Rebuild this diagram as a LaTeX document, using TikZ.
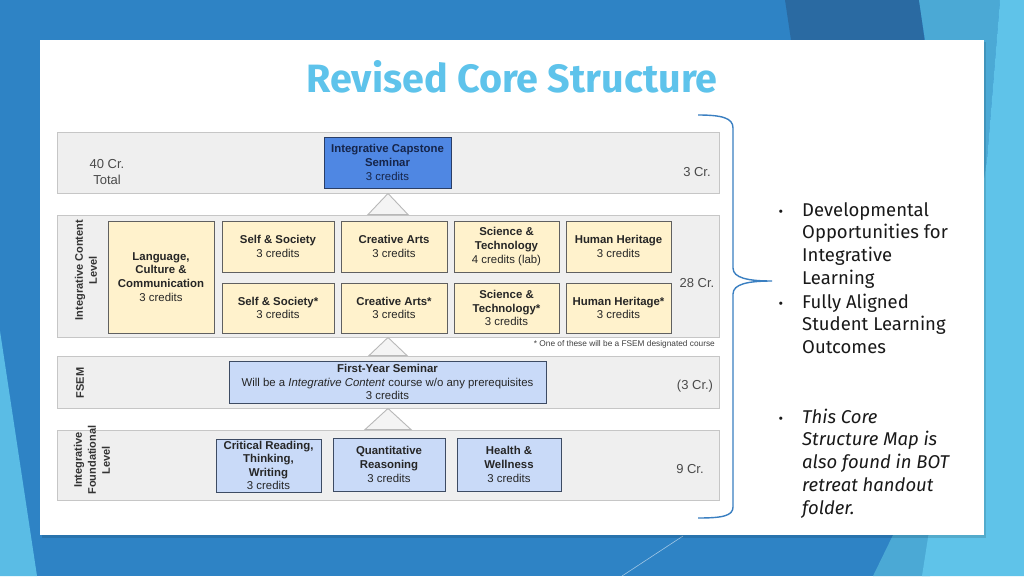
\documentclass[tikz,border=0pt]{standalone}
\usepackage{fontspec}
\setmainfont{Liberation Sans}
\newfontfamily\firaf{Fira Sans}
\usetikzlibrary{calc}
\definecolor{bgblue}{HTML}{2E83C5}
\definecolor{darkpoly}{HTML}{2A6AA2}
\definecolor{medpoly}{HTML}{4BA9D5}
\definecolor{lightpoly}{HTML}{5FC3E9}
\definecolor{wedge}{HTML}{5ABCE5}
\definecolor{titlecol}{HTML}{5EC3EB}
\definecolor{bandfill}{HTML}{EFEFEF}
\definecolor{bandline}{HTML}{C6C6C6}
\definecolor{yellowfill}{HTML}{FFF2CC}
\definecolor{boxline}{HTML}{606060}
\definecolor{capfill}{HTML}{4F87E3}
\definecolor{capline}{HTML}{2A3E66}
\definecolor{captext}{HTML}{16254A}
\definecolor{lbfill}{HTML}{C9DAF8}
\definecolor{lbline}{HTML}{3D4B63}
\definecolor{bracecol}{HTML}{3A7FC1}
\definecolor{crtext}{HTML}{4A4A4A}
\definecolor{tritri}{HTML}{B8B8B8}
\tikzset{
  band/.style={draw=bandline, fill=bandfill, line width=0.9pt, minimum width=662, minimum height=#1, inner sep=0},
  dtext/.style={font=\fontsize{11.4}{13.8}\selectfont, align=center, inner sep=0},
  ybox/.style={dtext, draw=boxline, fill=yellowfill, line width=0.9pt, text=black!85},
  lbbox/.style={dtext, draw=lbline, fill=lbfill, line width=0.9pt, text=black!85},
  capbox/.style={dtext, draw=capline, fill=capfill, line width=0.9pt, text=captext},
  crlabel/.style={font=\fontsize{13}{15.5}\selectfont, text=crtext, align=center, inner sep=0},
  vlabel/.style={font=\bfseries\fontsize{11}{14}\selectfont, text=black!80, align=center, inner sep=0, rotate=90},
  chevron/.style={draw=tritri, fill=bandfill!70!white, line width=0.9pt},
  bullettext/.style={font=\firaf\fontsize{18.5}{22.8}\selectfont, inner sep=0, anchor=base west, text=black!90},
  bulletdot/.style={font=\firaf\fontsize{14}{22.8}\selectfont, inner sep=0, anchor=base, text=black!90},
}
\newcommand{\linesblock}[1]{\begin{tabular}[t]{@{}l@{}}#1\end{tabular}}
\begin{document}
\begin{tikzpicture}[x=1pt, y=-1pt]
\useasboundingbox (0,0) rectangle (1024,576);
% background
\fill[bgblue] (0,0) rectangle (1024,576);
\fill[darkpoly] (785,0) -- (919,0) -- (960,300) -- (830,300) -- cycle;
\fill[medpoly] (919,0) -- (1000,0) -- (987,160) -- (930,576) -- (873,576) -- (893,535) -- (925,40) -- cycle;
\fill[lightpoly] (1000,0) -- (1024,0) -- (1024,576) -- (922,576) -- (987,160) -- cycle;
\fill[wedge] (0,331) -- (37,576) -- (0,576) -- cycle;
\draw[white, opacity=0.55, line width=0.6pt] (683,536) -- (622,576);
% panel
\fill[black, opacity=0.12] (41.5,41.5) rectangle (986,537.5);
\fill[white] (40,40) rectangle (984,535);
% title
\node[font=\firaf\bfseries\fontsize{39.5}{42}\selectfont, text=titlecol, anchor=base, inner sep=0] (title) at (512,92) {Revised Core Structure};
% bands
\node[band=61] (band1) at (388,162.5) {};
\node[band=122] (band2) at (388,276) {};
\node[band=52] (band3) at (388,382) {};
\node[band=70] (band4) at (388,465) {};
% capstone
\node[capbox, minimum width=127, minimum height=51] (cap) at (387.5,162.5) {\textbf{Integrative Capstone}\\\textbf{Seminar}\\3 credits};
\node[crlabel] (total) at (107,172) {40 Cr.\\Total};
\node[crlabel] (cr1) at (697,172) {3 Cr.};
% content level
\node[vlabel] (vl2) at (86,270) {Integrative Content\\Level};
\node[ybox, minimum width=106, minimum height=112] (lang) at (161,277) {\textbf{Language,}\\\textbf{Culture \&}\\\textbf{Communication}\\3 credits};
\node[ybox, minimum width=112, minimum height=51] (ss1) at (278,246.5) {\textbf{Self \& Society}\\3 credits};
\node[ybox, minimum width=112, minimum height=50] (ss2) at (278,308) {\textbf{Self \& Society*}\\3 credits};
\node[ybox, minimum width=106, minimum height=51] (ca1) at (394,246.5) {\textbf{Creative Arts}\\3 credits};
\node[ybox, minimum width=106, minimum height=50] (ca2) at (394,308) {\textbf{Creative Arts*}\\3 credits};
\node[ybox, minimum width=105, minimum height=51] (st1) at (506.5,246.5) {\textbf{Science \&}\\\textbf{Technology}\\4 credits (lab)};
\node[ybox, minimum width=105, minimum height=50] (st2) at (506.5,308) {\textbf{Science \&}\\\textbf{Technology*}\\3 credits};
\node[ybox, minimum width=105, minimum height=51] (hh1) at (618.5,246.5) {\textbf{Human Heritage}\\3 credits};
\node[ybox, minimum width=105, minimum height=50] (hh2) at (618.5,308) {\textbf{Human Heritage*}\\3 credits};
\node[crlabel] (cr2) at (697,283) {28 Cr.};
\node[font=\fontsize{8.3}{9.5}\selectfont, text=black!75, anchor=east, inner sep=0] (note) at (715,344) {* One of these will be a FSEM designated course};
% FSEM
\node[vlabel] (vl3) at (80,383) {FSEM};
\node[lbbox, minimum width=317, minimum height=42, font=\fontsize{11.4}{13.6}\selectfont] (fsem) at (387.5,382) {\textbf{First-Year Seminar}\\Will be a \textit{Integrative Content} course w/o any prerequisites\\3 credits};
\node[crlabel] (cr3) at (695,386) {(3 Cr.)};
% foundational
\node[vlabel] (vl4) at (92,460) {Integrative\\Foundational\\Level};
\node[lbbox, minimum width=105, minimum height=53, font=\fontsize{11.4}{13.4}\selectfont] (crt) at (268.5,465.5) {\textbf{Critical Reading,}\\\textbf{Thinking,}\\\textbf{Writing}\\3 credits};
\node[lbbox, minimum width=112, minimum height=53] (qr) at (389,464.5) {\textbf{Quantitative}\\\textbf{Reasoning}\\3 credits};
\node[lbbox, minimum width=104, minimum height=53] (hw) at (509,464.5) {\textbf{Health \&}\\\textbf{Wellness}\\3 credits};
\node[crlabel] (cr4) at (690,469) {9 Cr.};
% chevrons
\draw[chevron] ($(band2.north)+(-20,0)$) -- (band1.south) -- ($(band2.north)+(20,0)$) -- cycle;
\draw[chevron] ($(band3.north)+(-19,0)$) -- (band2.south) -- ($(band3.north)+(19,0)$) -- cycle;
\draw[chevron] ($(band4.north)+(-23,0)$) -- (band3.south) -- ($(band4.north)+(23,0)$) -- cycle;
% brace
\coordinate (btop) at (698,115);
\coordinate (btip) at (772,281);
\coordinate (bbot) at (698,518);
\draw[bracecol, line width=1.4pt] (btop) .. controls (722,115) and (733,118) .. (733,128) -- (733,268) .. controls (733,278) and (748,281) .. (btip) .. controls (748,281) and (733,284) .. (733,294) -- (733,507) .. controls (733,516) and (722,518) .. (bbot);
% bullets
\node[bulletdot] (d1) at (781,216) {•};
\node[bulletdot] (d2) at (781,308) {•};
\node[bulletdot] (d3) at (781,423) {•};
\node[bullettext] (b1) at (802,216) {\linesblock{Developmental\\Opportunities for\\Integrative\\Learning}};
\node[bullettext] (b2) at (802,308) {\linesblock{Fully Aligned\\Student Learning\\Outcomes}};
\node[bullettext, font=\firaf\itshape\fontsize{18.5}{22.8}\selectfont] (b3) at (802,423) {\linesblock{This Core\\Structure Map is\\also found in BOT\\retreat handout\\folder.}};
\end{tikzpicture}
\end{document}
